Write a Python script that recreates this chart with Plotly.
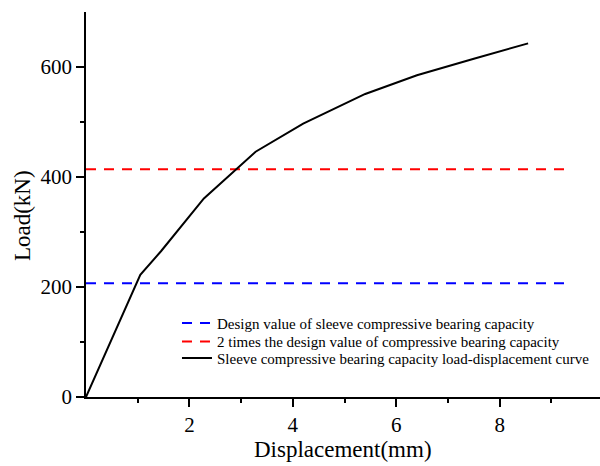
import plotly.graph_objects as go

# Data
disp = [0, 1.05, 1.45, 2.28, 3.28, 4.2, 5.4, 6.4, 7.5, 8.55]
load = [0, 222, 265, 361, 446, 497, 551, 585, 615, 643]
design_value = 207
double_design_value = 414
line_x = [0, 9.3]
x_ticks = [2, 4, 6, 8]
x_minor = [1, 3, 5, 7, 9]
y_ticks = [0, 200, 400, 600]
y_minor = [100, 300, 500]

names = [
    "Design value of sleeve compressive bearing capacity",
    "2 times the design value of compressive bearing capacity",
    "Sleeve compressive bearing capacity load-displacement curve",
]

FONT = "Liberation Serif, Times New Roman, serif"

fig = go.Figure()
fig.add_trace(go.Scatter(x=line_x, y=[design_value] * 2, mode="lines", name=names[0],
                         legend="legend",
                         line=dict(color="#0000ff", width=2, dash="10px,8px")))
fig.add_trace(go.Scatter(x=line_x, y=[double_design_value] * 2, mode="lines", name=names[1],
                         legend="legend2",
                         line=dict(color="#ff0000", width=2, dash="10px,8px")))
fig.add_trace(go.Scatter(x=disp, y=load, mode="lines", name=names[2],
                         legend="legend3",
                         line=dict(color="black", width=2)))

leg_common = dict(x=0.177, xanchor="left", yanchor="middle",
                  font=dict(family=FONT, size=15, color="black"),
                  bgcolor="rgba(0,0,0,0)", itemwidth=30, borderwidth=0)

fig.update_layout(
    width=600, height=466,
    margin=dict(l=86, r=0, t=12, b=69),
    paper_bgcolor="white", plot_bgcolor="white",
    font=dict(family=FONT, color="black", size=18),
    showlegend=True,
    legend=dict(y=0.1914, **leg_common),
    legend2=dict(y=0.1436, **leg_common),
    legend3=dict(y=0.1005, **leg_common),
    xaxis=dict(range=[0, 9.94], showline=True, linecolor="black", linewidth=1.5,
               showgrid=False, zeroline=False, tickmode="array", tickvals=x_ticks,
               ticks="outside", ticklen=8, tickwidth=1.5, tickcolor="black",
               tickfont=dict(family=FONT, size=21),
               minor=dict(tickmode="array", tickvals=x_minor, ticks="outside",
                          ticklen=4, tickwidth=1.5, tickcolor="black")),
    yaxis=dict(range=[0, 700], showline=True, linecolor="black", linewidth=1.5,
               showgrid=False, zeroline=False, tickmode="array", tickvals=y_ticks,
               ticks="outside", ticklen=8, tickwidth=1.5, tickcolor="black",
               tickfont=dict(family=FONT, size=21),
               minor=dict(tickmode="array", tickvals=y_minor, ticks="outside",
                          ticklen=4, tickwidth=1.5, tickcolor="black")),
    annotations=[
        dict(text="Displacement(mm)", xref="paper", yref="paper", x=0.5, y=-0.137,
             xanchor="center", yanchor="middle", showarrow=False,
             font=dict(family=FONT, size=23)),
        dict(text="Load(kN)", xref="paper", yref="paper", x=-0.1245, y=0.47,
             xanchor="center", yanchor="middle", showarrow=False, textangle=-90,
             font=dict(family=FONT, size=23)),
    ],
)

fig.write_html("out.html")
